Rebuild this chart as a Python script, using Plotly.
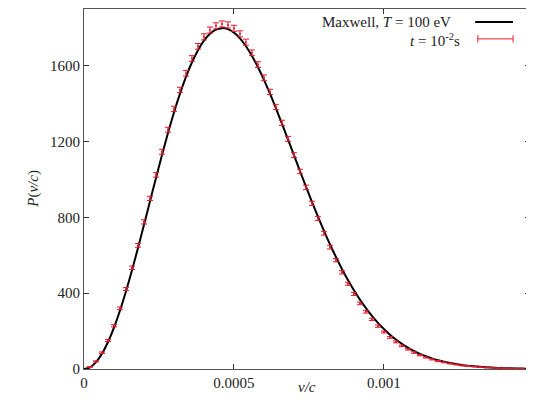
import plotly.graph_objects as go

# Maxwell curve (proton, T = 100 eV)
curve_x = [i * 2e-5 for i in range(75)]
curve_y = [0, 9.2, 36.4, 81.2, 142.4, 218.8, 308.6, 410.0, 520.6, 638.2,
           760.3, 884.4, 1008.1, 1128.9, 1244.6, 1353.1, 1452.4, 1541.2, 1618.0, 1681.8,
           1732.1, 1768.2, 1790.1, 1798.1, 1792.6, 1774.2, 1743.9, 1702.4, 1651.5, 1591.9,
           1525.2, 1452.4, 1375.1, 1294.0, 1211.5, 1128.0, 1044.4, 962.0, 881.5, 803.7,
           728.9, 657.9, 590.6, 527.7, 469.3, 415.5, 366.1, 320.9, 280.0, 243.2,
           210.5, 181.1, 155.3, 132.5, 112.5, 95.1, 80.0, 67.0, 55.9, 46.5,
           38.4, 31.7, 26.0, 21.2, 17.2, 14.0, 11.3, 9.1, 7.3, 5.8,
           4.6, 3.6, 2.8, 2.2, 1.7]

# simulated distribution at t = 1e-2 s
sim_x = [i * 2e-5 for i in range(1, 74)]
sim_y = [11, 40, 86, 150, 228, 320, 422, 534, 652, 776,
         900, 1024, 1146, 1262, 1372, 1472, 1560, 1638, 1702, 1752,
         1788, 1810, 1820, 1815, 1797, 1768, 1724, 1668, 1606, 1536,
         1462, 1382, 1298, 1214, 1128, 1042, 958, 874, 794, 716,
         643, 574, 510, 450, 396, 346, 302, 262, 226, 195,
         167, 143, 122, 104, 87, 73, 61, 51, 42, 35,
         29, 24, 19, 16, 13, 10, 8, 7, 5, 4,
         3, 3, 2]
sim_err = [2, 3, 4, 5, 6, 7, 8, 9, 10, 11,
           11, 12, 13, 13, 14, 14, 15, 15, 15, 16,
           16, 16, 16, 16, 16, 16, 16, 15, 15, 15,
           14, 14, 14, 13, 13, 12, 12, 11, 11, 10,
           10, 9, 9, 8, 8, 7, 7, 6, 6, 5,
           5, 5, 4, 4, 4, 3, 3, 3, 3, 2,
           2, 2, 2, 2, 1, 1, 1, 1, 1, 1,
           1, 1, 1]

x_ticks = [0, 0.0005, 0.001]
x_tick_text = ["0", "0.0005", "0.001"]
y_ticks = [0, 400, 800, 1200, 1600]

FONT = "Liberation Serif"
RED = "#e8192c"

fig = go.Figure()
fig.add_trace(go.Scatter(
    x=curve_x, y=curve_y, mode="lines", line=dict(color="black", width=2, shape="spline"),
    showlegend=False,
))
fig.add_trace(go.Scatter(
    x=sim_x, y=sim_y, mode="markers",
    marker=dict(color=RED, size=2),
    error_y=dict(type="data", array=sim_err, color=RED, thickness=1, width=3),
    showlegend=False,
))

axis_common = dict(
    showgrid=False, zeroline=False, showline=True, linecolor="#555555", linewidth=1,
    mirror="ticks", ticks="inside", ticklen=5, tickcolor="#333333",
    tickfont=dict(family=FONT, size=15, color="#222222"),
)
fig.update_xaxes(range=[0, 0.001487], tickvals=x_ticks, ticktext=x_tick_text, **axis_common)
fig.update_yaxes(range=[0, 1899], tickvals=y_ticks, **axis_common)

# hand-made legend (gnuplot puts the sample to the right of the text)
ann = [
    dict(x=0.827, y=0.964, xanchor="right", yanchor="middle",
         text="Maxwell, <i>T</i> = 100 eV"),
    dict(x=0.848, y=0.915, xanchor="right", yanchor="middle",
         text="<i>t</i> = 10<sup>-2</sup>s"),
    dict(x=0.5, y=-0.05, xanchor="center", yanchor="middle", text="<i>v/c</i>"),
    dict(x=-0.115, y=0.5, xanchor="center", yanchor="middle", text="<i>P</i>(<i>v/c</i>)",
         textangle=-90),
]
for a in ann:
    fig.add_annotation(xref="paper", yref="paper", showarrow=False,
                       font=dict(family=FONT, size=15, color="#222222"), **a)

fig.add_shape(type="line", xref="paper", yref="paper", x0=0.877, x1=0.962, y0=0.964, y1=0.964,
              line=dict(color="black", width=2))
fig.add_shape(type="line", xref="paper", yref="paper", x0=0.883, x1=0.962, y0=0.917, y1=0.917,
              line=dict(color=RED, width=1))
for xe in (0.883, 0.962):
    fig.add_shape(type="line", xref="paper", yref="paper", x0=xe, x1=xe, y0=0.907, y1=0.927,
                  line=dict(color=RED, width=1))

# the page body adds an 8px offset, so margins are shifted to land the frame where it should
fig.update_layout(
    width=534, height=402,
    margin=dict(l=76, r=12, t=1, b=41),
    paper_bgcolor="white", plot_bgcolor="white",
    font=dict(family=FONT, size=15, color="#222222"),
)

fig.write_html("out.html")
